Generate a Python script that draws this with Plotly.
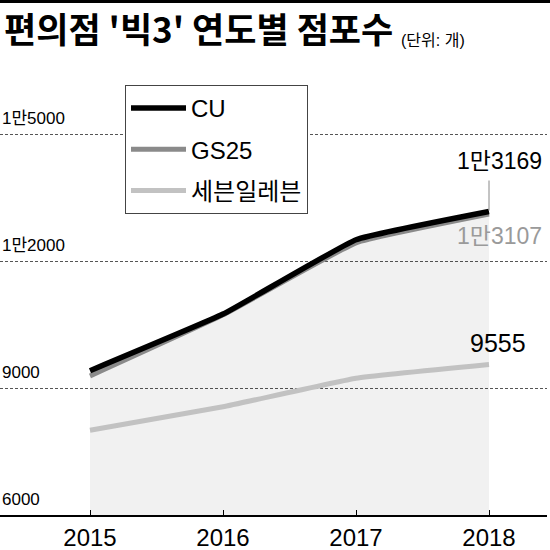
import plotly.graph_objects as go

years = [2015, 2016, 2017, 2018]
year_labels = ["2015", "2016", "2017", "2018"]
cu = [9409, 10746, 12503, 13169]
gs25 = [9285, 10728, 12429, 13107]
seven = [8000, 8556, 9231, 9555]
series_names = ["CU", "GS25", "세븐일레븐"]
y_ticks = [6000, 9000, 12000, 15000]
y_tick_labels = ["6000", "9000", "1만2000", "1만5000"]
end_labels = ["1만3169", "1만3107", "9555"]
title_text = "편의점 '빅3' 연도별 점포수"
unit_text = "(단위: 개)"

W, H = 550, 550
L, R, T, B = 0, 3, 60, 35
PW = W - L - R
PH = H - T - B
px_per_year = 133.0
x0_px = 90.0
x_range = [2015 - x0_px / px_per_year, 2015 + (PW - x0_px) / px_per_year]
units_per_px = 3000 / 127.0
y_range = [6000, 6000 + PH * units_per_px]

def py(p):
    return (H - B - p) / PH

def pxx(p):
    return (p - L) / PW

SANS = "Liberation Sans, Arial, Noto Sans CJK KR, sans-serif"

fig = go.Figure()

# shaded area under CU line
fig.add_trace(go.Scatter(x=years, y=cu, mode="lines", line=dict(width=0, shape="spline", smoothing=0.3),
                         fill="tozeroy", fillcolor="rgba(0,0,0,0.055)", showlegend=False, hoverinfo="skip"))

fig.add_trace(go.Scatter(x=years, y=seven, mode="lines", name=series_names[2],
                         line=dict(color="#c2c2c2", width=5, shape="spline", smoothing=0.3),
                         legendgroup="c", legendrank=3))
fig.add_trace(go.Scatter(x=years, y=gs25, mode="lines", name=series_names[1],
                         line=dict(color="#8a8a8a", width=5, shape="spline", smoothing=0.3),
                         legendgroup="b", legendrank=2))
fig.add_trace(go.Scatter(x=years, y=cu, mode="lines", name=series_names[0],
                         line=dict(color="#000000", width=5.5, shape="spline", smoothing=0.3),
                         legendgroup="a", legendrank=1))

annotations = []
# top rule
annotations.append(dict(x=0, y=py(0), xref="paper", yref="paper", xanchor="left", yanchor="top",
                        text=" ", showarrow=False, width=560, height=3, bgcolor="#000",
                        borderpad=0, borderwidth=0, font=dict(size=1)))
# title
annotations.append(dict(x=pxx(2), y=py(55), xref="paper", yref="paper", xanchor="left", yanchor="bottom",
                        text="<b>" + title_text + "</b>", showarrow=False,
                        font=dict(family="Noto Sans CJK KR", size=35, color="#000", weight=900)))
annotations.append(dict(x=pxx(399), y=py(51), xref="paper", yref="paper", xanchor="left", yanchor="bottom",
                        text=unit_text, showarrow=False,
                        font=dict(family=SANS, size=16, color="#000")))
# y tick labels
for v, t in zip(y_ticks, y_tick_labels):
    annotations.append(dict(x=0, y=v, xref="paper", yref="y", xanchor="left", yanchor="bottom",
                            xshift=0, yshift=4, text=t, showarrow=False,
                            font=dict(family=SANS, size=17, color="#000")))
# end labels
annotations.append(dict(x=years[-1], y=cu[-1], xref="x", yref="y", xanchor="right", yanchor="middle",
                        xshift=55, yshift=51, text=end_labels[0], showarrow=False,
                        font=dict(family=SANS, size=23, color="#000")))
annotations.append(dict(x=years[-1], y=gs25[-1], xref="x", yref="y", xanchor="right", yanchor="middle",
                        xshift=55, yshift=-22, text=end_labels[1], showarrow=False,
                        font=dict(family=SANS, size=23, color="#9a9a9a")))
annotations.append(dict(x=years[-1], y=seven[-1], xref="x", yref="y", xanchor="right", yanchor="middle",
                        xshift=39, yshift=22, text=end_labels[2], showarrow=False,
                        font=dict(family=SANS, size=25, color="#000")))

shapes = [
    dict(type="rect", xref="paper", yref="paper", x0=0, x1=1.01, y0=py(3), y1=py(0),
         fillcolor="#000", line=dict(width=0), layer="above"),
    dict(type="line", xref="x", yref="y", x0=years[-1], x1=years[-1],
         y0=cu[-1] + 1 * units_per_px, y1=cu[-1] + 31 * units_per_px,
         line=dict(color="#888", width=1)),
]

fig.update_layout(
    width=W, height=H,
    margin=dict(l=L, r=R, t=T, b=B),
    paper_bgcolor="white", plot_bgcolor="white",
    showlegend=True,
    legend=dict(x=pxx(125), y=py(85), xanchor="left", yanchor="top",
                bgcolor="white", bordercolor="#444", borderwidth=1,
                font=dict(family=SANS, size=24, color="#000"),
                traceorder="grouped", tracegroupgap=7, itemwidth=55),
    xaxis=dict(range=x_range, tickvals=years, ticktext=year_labels, showgrid=False, zeroline=False,
               showline=True, linecolor="#000", linewidth=1.5, ticks="inside", ticklen=5,
               tickcolor="#000", tickwidth=1, tickfont=dict(family=SANS, size=24, color="#000"),
               ticklabelstandoff=0, automargin=False, fixedrange=True),
    yaxis=dict(range=y_range, tickvals=y_ticks, showticklabels=False, showgrid=True,
               gridcolor="#555", gridwidth=1, griddash="3px,2px", zeroline=False,
               automargin=False, fixedrange=True),
    annotations=annotations,
    shapes=shapes,
)

fig.write_html("out.html", config={"displayModeBar": False},
               post_script="document.body.style.margin='0';document.body.style.padding='0';")
